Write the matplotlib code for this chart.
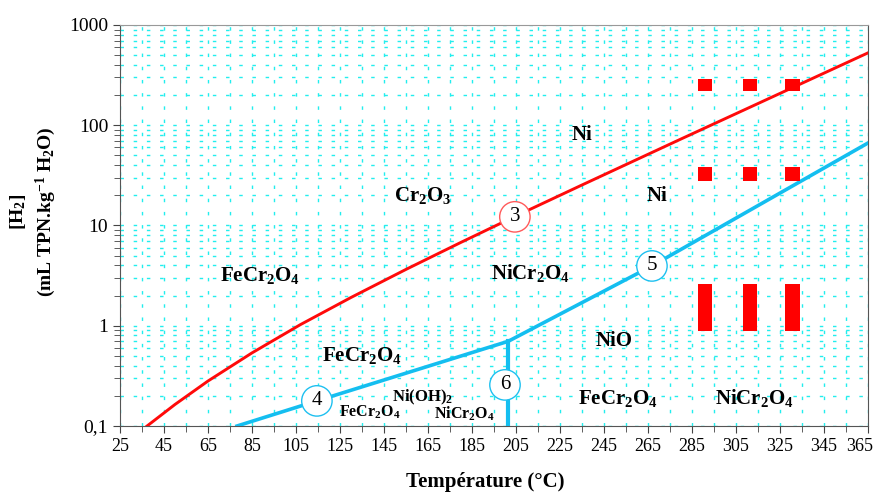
import matplotlib
matplotlib.use("Agg")
import matplotlib.pyplot as plt
import matplotlib.transforms as mtransforms
from matplotlib.ticker import FixedLocator, NullFormatter, LogLocator

plt.rcParams['font.family'] = ['Liberation Serif', 'DejaVu Serif']
plt.rcParams['mathtext.default'] = 'regular'

# boundary 3 (red)
red_T = [37.3, 50, 65, 85, 107, 130, 155, 180, 205, 235, 280, 365]
red_H = [0.1, 0.164, 0.281, 0.536, 1.026, 1.914, 3.648, 6.79, 12.45, 25.35, 72.9, 527]

# boundaries 4 / 5 (blue)
blue_T = [78.2, 114.5, 201.5, 266.8, 365]
blue_H = [0.1, 0.178, 0.70, 3.95, 66.5]

# boundary 6 (vertical)
vert_T = 201.5
vert_H = [0.1, 0.70]

# numbered circles
circ_lbl = ['3', '4', '5', '6']
circ_T = [204.5, 114.5, 266.8, 200]
circ_H = [12.2, 0.178, 3.95, 0.257]
circ_col = ['#ff5a5a', '#1ec0f0', '#1ec0f0', '#1ec0f0']

# red experimental markers (bottom, top)
mk_T = [290.9, 311.4, 330.7]
mk_rows = [(220, 289), (27.8, 37.9), (0.89, 2.61)]

# phase labels
phase_txt = ['Ni', 'Cr$_2$O$_3$', 'Ni', 'FeCr$_2$O$_4$', 'NiCr$_2$O$_4$', 'FeCr$_2$O$_4$',
             'NiO', 'Ni(OH)$_2$', 'FeCr$_2$O$_4$', 'NiCr$_2$O$_4$', 'FeCr$_2$O$_4$', 'NiCr$_2$O$_4$']
phase_T = [235, 162.7, 269, 88.6, 211.4, 135, 249.5, 162.3, 138.6, 181.4, 251.4, 313.2]
phase_H = [80, 19.7, 19.7, 3.2, 3.36, 0.50, 0.70, 0.195, 0.138, 0.132, 0.19, 0.19]
phase_fs = [15, 15, 15, 15, 15, 15, 15, 12, 11.5, 11.5, 15, 15]

x_ticks = list(range(25, 366, 20))
y_ticks = [0.1, 1, 10, 100, 1000]
y_labels = ['0,1', '1', '10', '100', '1000']

fig = plt.figure(figsize=(8.74, 4.93), dpi=100)
ax = fig.add_axes([0.1373, 0.1359, 0.8558, 0.8134])
ax.set_yscale('log')
ax.set_xlim(25, 365)
ax.set_ylim(0.1, 1000)

ax.xaxis.set_major_locator(FixedLocator(x_ticks))
ax.xaxis.set_minor_locator(FixedLocator(list(range(35, 366, 20))))
ax.set_xticklabels([str(t) for t in x_ticks])
ax.yaxis.set_major_locator(FixedLocator(y_ticks))
ax.yaxis.set_minor_locator(LogLocator(base=10, subs=range(2, 10)))
ax.yaxis.set_minor_formatter(NullFormatter())
ax.set_yticklabels(y_labels)
ax.tick_params(which='both', direction='out', color='#444444')
ax.tick_params(axis='x', labelsize=13)
ax.tick_params(axis='y', labelsize=14)
ax.tick_params(which='major', length=5)
ax.tick_params(which='minor', length=4)
ax.grid(True, which='both', color='#22eeee', linestyle=(0, (2.5, 7)), linewidth=1.0)
ax.set_axisbelow(True)
for sp in ax.spines.values():
    sp.set_color('#555555')
ax.spines['top'].set_color('#999999')

# keep the last x label inside the figure
last = ax.get_xticklabels()[-1]
last.set_horizontalalignment('right')
last.set_transform(last.get_transform() + mtransforms.ScaledTranslation(4 / 72, 0, fig.dpi_scale_trans))

ax.plot(red_T, red_H, color='#ff0a0a', lw=2.1, zorder=3)
ax.plot(blue_T, blue_H, color='#14bef0', lw=2.6, zorder=3)
ax.plot([vert_T, vert_T], vert_H, color='#14bef0', lw=3, zorder=3)

for (lo, hi) in mk_rows:
    ax.bar(mk_T, [hi - lo] * 3, bottom=lo, width=6.4, color='#ff0000', zorder=3)

ax.scatter(circ_T, circ_H, s=480, facecolor='white', edgecolor=circ_col, linewidth=1.0, zorder=4)
for t, x, y in zip(circ_lbl, circ_T, circ_H):
    ax.text(x, y, t, ha='center', va='center', fontsize=15, zorder=5)

for t, x, y, fs in zip(phase_txt, phase_T, phase_H, phase_fs):
    ax.text(x, y, t, ha='center', va='center', fontsize=fs, fontweight='bold', zorder=5)

fig.text(0.038, 0.57, '[H$_2$]\n(mL TPN.kg$^{-1}$ H$_2$O)', rotation=90, ha='center', va='center',
         fontsize=14, fontweight='bold', linespacing=1.3)
fig.text(0.555, 0.022, 'Température (°C)', ha='center', va='center', fontsize=15, fontweight='bold')

fig.savefig('out.png', dpi=100)
